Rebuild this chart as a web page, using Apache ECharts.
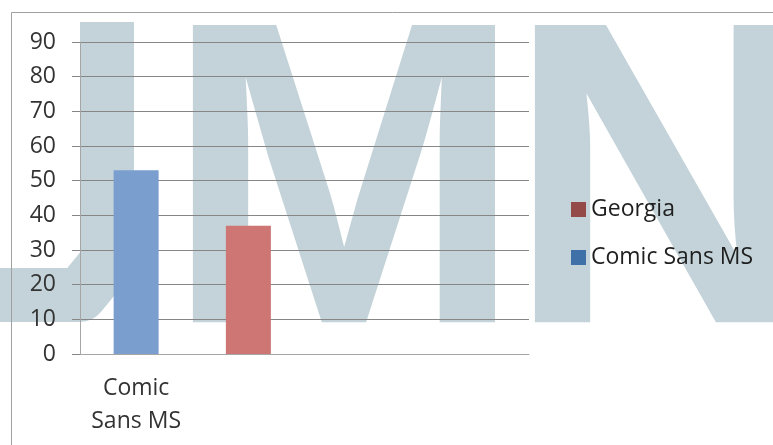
<!DOCTYPE html>
<html>
<head>
    <meta charset="utf-8">
    <title>Fonts</title>
    <script src="https://cdn.jsdelivr.net/npm/echarts@6/dist/echarts.min.js"></script>
    <style>
        html, body {margin: 0; padding: 0; background: #fff;}
        #chart_ref {width: 773px; height: 445px;}
    </style>
</head>
<body>
<div id="chart_ref"></div>
<script>
    //类目与数值
    const categories = ['Comic Sans MS', 'Georgia', '', '']
    const comicValues = [53, '-', '-', '-']
    const georgiaValues = ['-', 37, '-', '-']
    const yTicks = [0, 10, 20, 30, 40, 50, 60, 70, 80, 90]

    const font = '"Open Sans", "Noto Sans", sans-serif'
    const markColor = '#c3d3d9'
    const chartInstance = echarts.init(document.getElementById('chart_ref'))

    //背景水印字母
    const mark = (text, x) => ({
        type: 'text',
        x: x,
        y: -13,
        z: -10,
        silent: true,
        style: {
            text: text,
            font: 'bold 432px "Liberation Sans", Arial, sans-serif',
            verticalAlign: 'top',
            fill: markColor
        }
    })

    const option = {
        backgroundColor: '#fff',
        animation: false,
        grid: {
            left: 80,
            right: 244,
            top: 42,
            bottom: 91
        },
        legend: {
            orient: 'vertical',
            left: 571,
            top: 198,
            padding: 0,
            itemWidth: 15,
            itemHeight: 15,
            itemGap: 25,
            icon: 'rect',
            textStyle: {
                fontFamily: font,
                fontSize: 23,
                lineHeight: 22,
                color: '#1f1f1f'
            },
            data: [
                {name: 'Georgia', itemStyle: {color: '#954a4a'}},
                {name: 'Comic Sans MS', itemStyle: {color: '#3f70a8'}}
            ]
        },
        xAxis: {
            type: 'category',
            data: categories,
            axisLine: {lineStyle: {color: '#a6a6a6'}},
            axisTick: {length: 7, lineStyle: {color: '#a6a6a6'}},
            axisLabel: {
                margin: 18,
                fontFamily: font,
                fontSize: 23,
                lineHeight: 33,
                color: '#333',
                formatter: v => v === 'Comic Sans MS' ? 'Comic\nSans MS' : v
            }
        },
        yAxis: {
            type: 'value',
            min: yTicks[0],
            max: yTicks[yTicks.length - 1],
            interval: 10,
            axisLine: {show: true, lineStyle: {color: '#a6a6a6'}},
            axisTick: {show: true, length: 8, lineStyle: {color: '#868686'}},
            axisLabel: {
                margin: 24,
                fontFamily: font,
                fontSize: 23,
                color: '#333'
            },
            splitLine: {lineStyle: {color: '#868686'}}
        },
        series: [
            {
                name: 'Comic Sans MS',
                type: 'bar',
                stack: 'all',
                barWidth: 45,
                data: comicValues,
                itemStyle: {color: '#7a9fcf'}
            },
            {
                name: 'Georgia',
                type: 'bar',
                stack: 'all',
                barWidth: 45,
                data: georgiaValues,
                itemStyle: {color: '#cd7673'}
            }
        ],
        graphic: [
            //图表外框
            {
                type: 'polyline',
                silent: true,
                shape: {points: [[11.5, 445], [11.5, 12.5], [773, 12.5]]},
                style: {stroke: '#a0a0a0', lineWidth: 1, fill: null}
            },
            //水印 J
            {
                type: 'polyline',
                silent: true,
                z: -10,
                shape: {points: [[107, 22], [107, 262], [80, 295], [0, 295]]},
                style: {stroke: markColor, lineWidth: 54, lineJoin: 'round', fill: null}
            },
            mark('M', 164),
            mark('N', 506)
        ]
    }
    chartInstance.setOption(option)
</script>
</body>
</html>
